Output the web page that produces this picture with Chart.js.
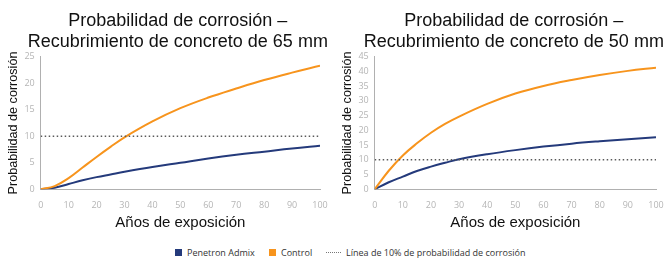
<!DOCTYPE html>
<html>
<head>
<meta charset="utf-8">
<script src="https://cdn.jsdelivr.net/npm/chart.js@4.4.1/dist/chart.umd.min.js"></script>
<style>
  html, body { margin: 0; padding: 0; background: #fff; }
  body { width: 670px; height: 259px; position: relative; overflow: hidden; }
  canvas { position: absolute; top: 0; }
  #legend { position: absolute; top: 245px; left: 0; width: 670px; height: 14px;
    font-family: 'Open Sans', sans-serif; font-size: 9px; color: #333; }
  .li { position: absolute; top: 0; display: flex; align-items: center; height: 14px; white-space: nowrap; }
  .sw { display: inline-block; width: 7px; height: 7px; margin-right: 5px; }
  .dots { display: inline-block; width: 15px; border-top: 1.5px dotted #777; margin-right: 5px; }
</style>
</head>
<body>
<canvas id="c1" width="352" height="234" style="left:0px"></canvas>
<canvas id="c2" width="356" height="234" style="left:334px"></canvas>
<div id="legend">
  <div class="li" style="left:175px"><span class="sw" style="background:#243a7b"></span>Penetron Admix</div>
  <div class="li" style="left:269px"><span class="sw" style="background:#f7941d"></span>Control</div>
  <div class="li" style="left:326px"><span class="dots"></span>Línea de 10% de probabilidad de corrosión</div>
</div>
<script>
const years = [0, 5, 10, 15, 20, 25, 30, 40, 50, 60, 70, 80, 90, 100];
const admix65 =   [0, 0.3, 1.0, 1.7, 2.3, 2.8, 3.3, 4.2, 5.0, 5.8, 6.5, 7.1, 7.7, 8.2];
const control65 = [0, 0.6, 2.1, 4.1, 6.1, 8.0, 9.8, 12.8, 15.3, 17.3, 19.0, 20.6, 22.0, 23.3];
const admix50 =   [0, 2.4, 4.3, 6.2, 7.7, 9.0, 10.2, 11.9, 13.3, 14.5, 15.5, 16.3, 17.0, 17.7];
const control50 = [0, 6.3, 11.5, 15.6, 19.2, 22.2, 24.7, 29.0, 32.5, 35.1, 37.1, 38.8, 40.2, 41.3];
const thresholdX = [0, 101];
const thresholdY = [10, 10];
const title65 = ['Probabilidad de corrosión –', 'Recubrimiento de concreto de 65 mm'];
const title50 = ['Probabilidad de corrosión –', 'Recubrimiento de concreto de 50 mm'];
const xTitle = 'Años de exposición';
const yTitle = 'Probabilidad de corrosión';
const seriesNames = ['Penetron Admix', 'Control', 'Línea de 10% de probabilidad de corrosión'];

const BLUE = '#243a7b', ORANGE = '#f7941d';

function pts(xs, ys) { return xs.map((x, i) => ({ x: x, y: ys[i] })); }

function makeChart(id, title, admix, control, yMax, rightSpace) {
  new Chart(document.getElementById(id), {
    type: 'line',
    data: {
      datasets: [
        { label: seriesNames[2], data: pts(thresholdX, thresholdY), borderColor: '#5a5a5a', yAxisID: 'y',
          borderWidth: 1.5, borderDash: [1.5, 2.5], pointRadius: 0, tension: 0 },
        { label: seriesNames[1], data: pts(years, control), borderColor: ORANGE, yAxisID: 'y',
          borderWidth: 2, pointRadius: 0, tension: 0.4 },
        { label: seriesNames[0], data: pts(years, admix), borderColor: BLUE, yAxisID: 'y',
          borderWidth: 2, pointRadius: 0, tension: 0.4 }
      ]
    },
    options: {
      responsive: false,
      animation: false,
      layout: { padding: { left: 5.6, right: 2, top: 4, bottom: 0 } },
      plugins: {
        legend: { display: false },
        tooltip: { enabled: false },
        title: {
          display: true, text: title, color: '#111',
          font: { family: "'Liberation Sans', Arial, sans-serif", size: 18, weight: 'normal', lineHeight: 1.14 },
          padding: { top: 7, bottom: 4.7 }
        }
      },
      scales: {
        x: {
          type: 'linear', min: 0, max: 100,
          ticks: { stepSize: 10, color: '#b5b5b5', font: { family: "'Open Sans', sans-serif", size: 9 }, padding: 11, maxRotation: 0, autoSkip: false },
          grid: { display: false, drawTicks: false },
          border: { display: true, color: '#b0b0b0', width: 1 },
          title: { display: true, text: xTitle, color: '#111',
            font: { family: "'Liberation Sans', Arial, sans-serif", size: 15 }, padding: { top: 0, bottom: 2 } },
          afterFit: function (s) { s.height = 44.7; }
        },
        y: {
          position: 'left', min: 0, max: yMax,
          ticks: { stepSize: 5, color: '#b5b5b5', font: { family: "'Open Sans', sans-serif", size: 9 }, padding: 6, autoSkip: false },
          grid: { display: false, drawTicks: false },
          border: { display: true, color: '#b0b0b0', width: 1 },
          title: { display: true, text: yTitle, color: '#111',
            font: { family: "'Liberation Sans', Arial, sans-serif", size: 12.6 }, padding: { top: 0, bottom: 3 } },
          afterFit: function (s) { s.width = 35.1; }
        },
        yR: {
          position: 'right', min: 0, max: yMax,
          ticks: { display: false },
          grid: { display: false, drawTicks: false },
          border: { display: false },
          afterFit: function (s) { s.width = rightSpace; }
        }
      }
    }
  });
}

makeChart('c1', title65, admix65, control65, 25, 30);
makeChart('c2', title50, admix50, control50, 45, 32);
</script>
</body>
</html>
